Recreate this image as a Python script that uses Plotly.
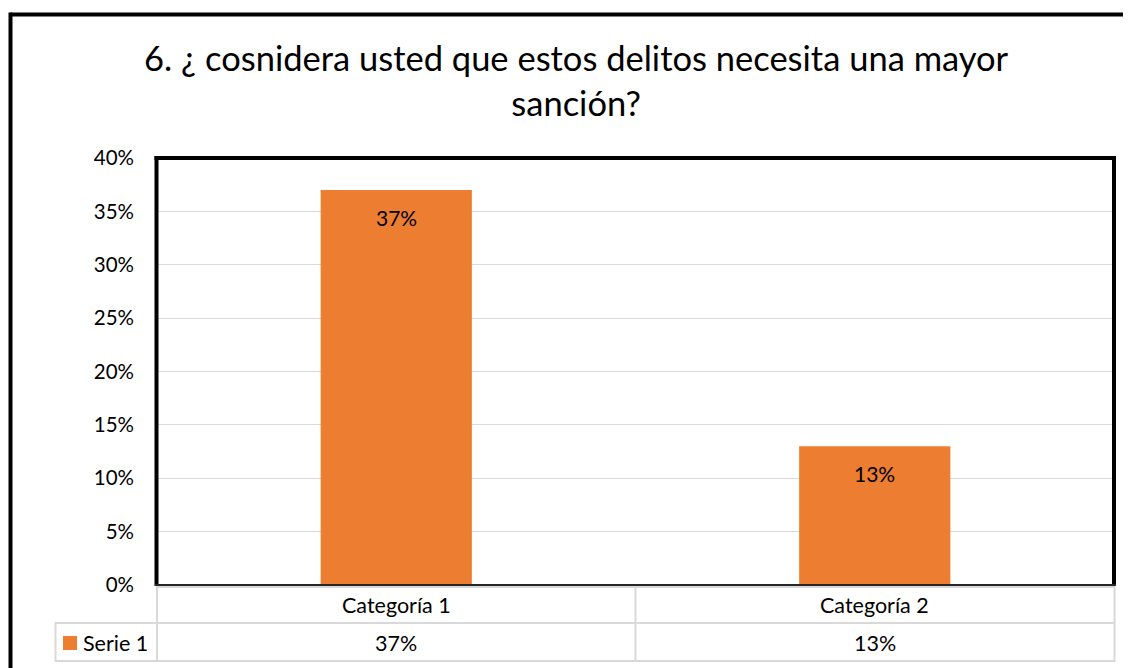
import plotly.graph_objects as go

title_text = "6. ¿ cosnidera usted que estos delitos necesita una mayor<br>sanción?"
categories = ["Categoría 1", "Categoría 2"]
series_name = "Serie 1"
values = [0.37, 0.13]
value_labels = ["37%", "13%"]

# the page body adds an 8px margin, so the figure is made 8px smaller and
# reference pixel positions are shifted by that offset
OFF = 8
W, H = 1131 - OFF, 668 - OFF
FONT = "Lato, Carlito, Calibri, sans-serif"
ORANGE = "#ED7D31"
GRID = "#d9d9d9"


def px(x):
    return (x - OFF) / W


def py(y):
    return 1 - (y - OFF) / H


fig = go.Figure()
fig.add_trace(go.Bar(
    x=categories, y=values, name=series_name,
    marker=dict(color=ORANGE, line=dict(width=0)),
    width=0.316,
    showlegend=False, hoverinfo="skip",
))

shapes = []
# outer frame
shapes.append(dict(type="line", xref="paper", yref="paper", x0=px(10.5), x1=px(1140), y0=py(14.5), y1=py(14.5),
                   line=dict(color="black", width=4)))
shapes.append(dict(type="line", xref="paper", yref="paper", x0=px(10.5), x1=px(10.5), y0=py(12.5), y1=py(680),
                   line=dict(color="black", width=4)))


def hl(y, x0, x1):
    shapes.append(dict(type="line", xref="paper", yref="paper", x0=px(x0), x1=px(x1), y0=py(y), y1=py(y),
                       line=dict(color=GRID, width=2)))


def vl(x, y0, y1):
    shapes.append(dict(type="line", xref="paper", yref="paper", x0=px(x), x1=px(x), y0=py(y0), y1=py(y1),
                       line=dict(color=GRID, width=2)))


# data table grid
hl(587, 157, 1115)
hl(623, 55, 1115)
hl(661, 55, 1115)
vl(157, 586, 662)
vl(635.5, 586, 662)
vl(1114.5, 586, 662)
vl(55.5, 622, 662)
# plot area border
shapes.append(dict(type="line", xref="paper", yref="paper", x0=px(156.5), x1=px(156.5), y0=py(156), y1=py(586),
                   line=dict(color="black", width=4)))
shapes.append(dict(type="line", xref="paper", yref="paper", x0=px(154.5), x1=px(1116), y0=py(158), y1=py(158),
                   line=dict(color="black", width=4)))
shapes.append(dict(type="line", xref="paper", yref="paper", x0=px(1114), x1=px(1114), y0=py(156), y1=py(586),
                   line=dict(color="black", width=4)))
shapes.append(dict(type="line", xref="paper", yref="paper", x0=px(155), x1=px(1116), y0=py(585), y1=py(585),
                   line=dict(color="#262626", width=2)))
# legend key in the data table
shapes.append(dict(type="rect", xref="paper", yref="paper", x0=px(63), x1=px(77), y0=py(650), y1=py(636),
                   fillcolor=ORANGE, line=dict(width=0)))

annotations = [
    dict(text=title_text, xref="paper", yref="paper", x=px(576), y=py(80), xanchor="center", yanchor="middle",
         showarrow=False, font=dict(family=FONT, size=34.5, color="#000000"), align="center"),
    dict(text=series_name, xref="paper", yref="paper", x=px(81), y=py(643), xanchor="left", yanchor="middle",
         showarrow=False, font=dict(family=FONT, size=21.5, color="#000000")),
]
for c, v, lab in zip(categories, values, value_labels):
    # data label inside the bar top
    annotations.append(dict(text=lab, xref="x", yref="y", x=c, y=v, xanchor="center", yanchor="middle",
                            yshift=-27, showarrow=False, font=dict(family=FONT, size=21, color="#000000")))
    # data table cells
    annotations.append(dict(text=c, xref="x", yref="paper", x=c, y=py(605), xanchor="center", yanchor="middle",
                            showarrow=False, font=dict(family=FONT, size=21.5, color="#000000")))
    annotations.append(dict(text=lab, xref="x", yref="paper", x=c, y=py(643), xanchor="center", yanchor="middle",
                            showarrow=False, font=dict(family=FONT, size=21.5, color="#000000")))

fig.update_layout(
    width=W, height=H,
    margin=dict(l=0, r=0, t=0, b=0, autoexpand=False),
    paper_bgcolor="white", plot_bgcolor="white",
    xaxis=dict(domain=[px(157), px(1114)], range=[-0.5, 1.5], showticklabels=False, showgrid=False,
               zeroline=False, showline=False, ticks="", automargin=False),
    yaxis=dict(domain=[py(585), py(158)], range=[0, 0.40], dtick=0.05, tickformat=".0%",
               showgrid=True, gridcolor=GRID, gridwidth=1, zeroline=False, showline=False,
               ticks="", ticklabelstandoff=22, automargin=False,
               tickfont=dict(family=FONT, size=20.5, color="#000000")),
    shapes=shapes,
    annotations=annotations,
    font=dict(family=FONT),
    bargap=0.684,
)

fig.write_html("out.html")
